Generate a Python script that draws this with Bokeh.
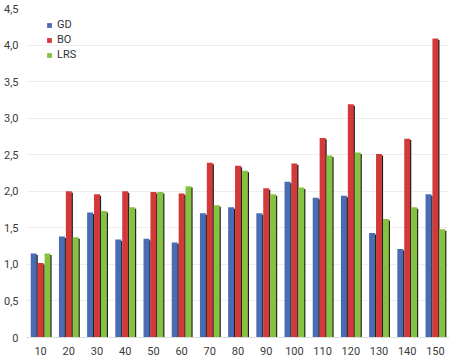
from bokeh.plotting import figure
from bokeh.models import ColumnDataSource, FixedTicker, Legend, LegendItem, Range1d
from bokeh.embed import file_html
from bokeh.resources import INLINE

categories = ["10", "20", "30", "40", "50", "60", "70", "80", "90", "100", "110", "120", "130", "140", "150"]
gd = [1.15, 1.38, 1.71, 1.34, 1.35, 1.30, 1.70, 1.78, 1.70, 2.13, 1.91, 1.94, 1.43, 1.21, 1.96]
bo = [1.02, 2.00, 1.96, 2.00, 1.99, 1.97, 2.39, 2.35, 2.04, 2.38, 2.73, 3.19, 2.51, 2.72, 4.09]
lrs = [1.15, 1.37, 1.73, 1.78, 1.99, 2.07, 1.81, 2.28, 1.96, 2.05, 2.49, 2.53, 1.62, 1.78, 1.48]
y_ticks = [0, 0.5, 1.0, 1.5, 2.0, 2.5, 3.0, 3.5, 4.0, 4.5]
series = [("GD", gd, "#4a6cb3"), ("BO", bo, "#d23a3a"), ("LRS", lrs, "#86c242")]

idx = list(range(len(categories)))

p = figure(width=449, height=357, output_backend="svg", toolbar_location=None,
           x_range=Range1d(-0.5, len(categories) - 0.5), y_range=Range1d(0, 4.5))
p.min_border_left = 18
p.min_border_right = 0
p.min_border_top = 8
p.min_border_bottom = 18
p.outline_line_color = None
p.background_fill_color = "white"
p.border_fill_color = "white"

bw = 0.21
step = 0.245
offsets = [-step, 0, step]
items = []
for (name, vals, col), off in zip(series, offsets):
    src = ColumnDataSource(dict(x=[i + off for i in idx], top=vals))
    # dark shadow at the right side
    sh = ColumnDataSource(dict(x=[i + off + 0.04 for i in idx], top=[v - 0.02 for v in vals]))
    p.vbar(x="x", top="top", width=bw, source=sh, fill_color="#1e1e1e", line_color=None)
    r = p.vbar(x="x", top="top", width=bw, source=src, fill_color=col, line_color=None)
    items.append(LegendItem(label=name, renderers=[r]))

legend = Legend(items=items, location=(20, 276))
legend.background_fill_alpha = 0
legend.border_line_color = None
legend.label_text_font = "Roboto"
legend.label_text_font_size = "11px"
legend.label_text_color = "#333333"
legend.glyph_width = 6
legend.glyph_height = 6
legend.label_height = 11
legend.spacing = 2
legend.padding = 0
legend.margin = 0
p.add_layout(legend, "center")

p.xaxis.ticker = FixedTicker(ticks=idx)
p.xaxis.major_label_overrides = {i: c for i, c in enumerate(categories)}
p.yaxis.ticker = FixedTicker(ticks=y_ticks)
p.yaxis.major_label_overrides = {t: ("0" if t == 0 else ("%.1f" % t).replace(".", ",")) for t in y_ticks}
for ax in (p.xaxis, p.yaxis):
    ax.axis_line_color = None
    ax.major_tick_line_color = None
    ax.minor_tick_line_color = None
    ax.major_label_text_font = "Roboto"
    ax.major_label_text_font_size = "11px"
    ax.major_label_text_color = "#3a3a3a"
p.xaxis.axis_line_color = "#dddddd"
p.xaxis.major_label_standoff = 3
p.yaxis.major_label_standoff = 2
p.xgrid.grid_line_color = None
p.ygrid.grid_line_color = "#eeeeee"

open("out.html", "w").write(file_html(p, INLINE))
